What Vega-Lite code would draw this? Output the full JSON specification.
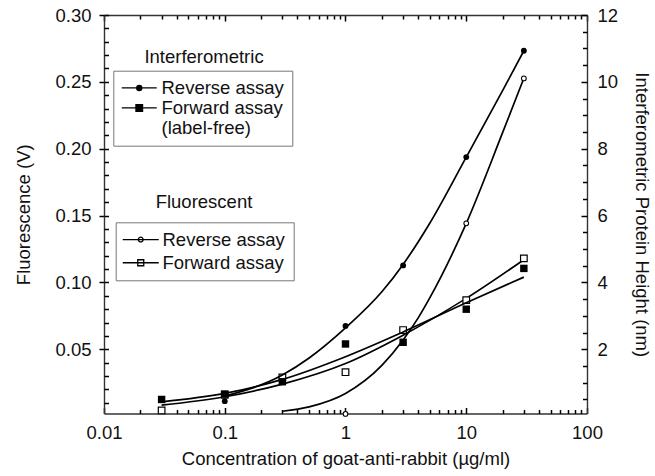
{
  "$schema": "https://vega.github.io/schema/vega-lite/v6.json",
  "width": 483,
  "height": 398.5,
  "autosize": {"type": "none"},
  "padding": {"left": 104, "top": 15, "right": 68, "bottom": 62.5},
  "datasets": {
    "fluorPts": [
      {"conc": 1, "value": 0.0017, "series": "Reverse assay"},
      {"conc": 10, "value": 0.1442, "series": "Reverse assay"},
      {"conc": 30, "value": 0.2526, "series": "Reverse assay"},
      {"conc": 0.03, "value": 0.0043, "series": "Forward assay"},
      {"conc": 0.1, "value": 0.016, "series": "Forward assay"},
      {"conc": 0.3, "value": 0.029, "series": "Forward assay"},
      {"conc": 1, "value": 0.0329, "series": "Forward assay"},
      {"conc": 3, "value": 0.0644, "series": "Forward assay"},
      {"conc": 10, "value": 0.0868, "series": "Forward assay"},
      {"conc": 30, "value": 0.118, "series": "Forward assay"}
    ],
    "fluorFit": [
      {"conc": 0.3, "value": 0.0037, "series": "Reverse assay"},
      {"conc": 0.5, "value": 0.007, "series": "Reverse assay"},
      {"conc": 1, "value": 0.017, "series": "Reverse assay"},
      {"conc": 2, "value": 0.038, "series": "Reverse assay"},
      {"conc": 3, "value": 0.057, "series": "Reverse assay"},
      {"conc": 4, "value": 0.0735, "series": "Reverse assay"},
      {"conc": 5, "value": 0.0886, "series": "Reverse assay"},
      {"conc": 10, "value": 0.1442, "series": "Reverse assay"},
      {"conc": 20, "value": 0.212, "series": "Reverse assay"},
      {"conc": 30, "value": 0.2527, "series": "Reverse assay"},
      {"conc": 0.03, "value": 0.0082, "series": "Forward assay"},
      {"conc": 0.1, "value": 0.0145, "series": "Forward assay"},
      {"conc": 0.3, "value": 0.024, "series": "Forward assay"},
      {"conc": 1, "value": 0.0394, "series": "Forward assay"},
      {"conc": 3, "value": 0.0606, "series": "Forward assay"},
      {"conc": 10, "value": 0.0881, "series": "Forward assay"},
      {"conc": 30, "value": 0.117, "series": "Forward assay"}
    ],
    "interfPts": [
      {"conc": 0.1, "height": 0.45, "series": "Reverse assay"},
      {"conc": 1, "height": 2.7, "series": "Reverse assay"},
      {"conc": 3, "height": 4.51, "series": "Reverse assay"},
      {"conc": 10, "height": 7.75, "series": "Reverse assay"},
      {"conc": 30, "height": 10.93, "series": "Reverse assay"},
      {"conc": 0.03, "height": 0.5, "series": "Forward assay"},
      {"conc": 0.1, "height": 0.66, "series": "Forward assay"},
      {"conc": 0.3, "height": 1.03, "series": "Forward assay"},
      {"conc": 1, "height": 2.16, "series": "Forward assay"},
      {"conc": 3, "height": 2.21, "series": "Forward assay"},
      {"conc": 10, "height": 3.2, "series": "Forward assay"},
      {"conc": 30, "height": 4.42, "series": "Forward assay"}
    ],
    "interfFit": [
      {"conc": 0.1, "height": 0.6, "series": "Reverse assay"},
      {"conc": 0.3, "height": 1.23, "series": "Reverse assay"},
      {"conc": 0.5, "height": 1.74, "series": "Reverse assay"},
      {"conc": 1, "height": 2.64, "series": "Reverse assay"},
      {"conc": 2, "height": 3.72, "series": "Reverse assay"},
      {"conc": 3, "height": 4.54, "series": "Reverse assay"},
      {"conc": 5, "height": 5.78, "series": "Reverse assay"},
      {"conc": 10, "height": 7.75, "series": "Reverse assay"},
      {"conc": 20, "height": 9.74, "series": "Reverse assay"},
      {"conc": 30, "height": 10.93, "series": "Reverse assay"},
      {"conc": 0.03, "height": 0.43, "series": "Forward assay"},
      {"conc": 0.1, "height": 0.68, "series": "Forward assay"},
      {"conc": 0.3, "height": 1.1, "series": "Forward assay"},
      {"conc": 1, "height": 1.78, "series": "Forward assay"},
      {"conc": 3, "height": 2.52, "series": "Forward assay"},
      {"conc": 10, "height": 3.39, "series": "Forward assay"},
      {"conc": 30, "height": 4.16, "series": "Forward assay"}
    ]
  },
  "title": {
    "text": "Interferometric",
    "subtitle": "Fluorescent",
    "frame": "group",
    "anchor": "start",
    "align": "center",
    "dx": 100,
    "dy": 205,
    "offset": 0,
    "subtitlePadding": 126.5,
    "font": "Liberation Sans",
    "fontSize": 18.5,
    "fontWeight": "normal",
    "color": "#111111",
    "subtitleFont": "Liberation Sans",
    "subtitleFontSize": 18.5,
    "subtitleColor": "#111111"
  },
  "config": {
    "view": {"stroke": null},
    "axis": {
      "grid": false,
      "labelFlush": false,
      "labelOverlap": false,
      "labelBound": false,
      "domainColor": "#333333",
      "domainWidth": 1.4,
      "labelFont": "Liberation Sans",
      "labelFontSize": 18.5,
      "labelColor": "#111111",
      "titleFont": "Liberation Sans",
      "titleFontSize": 18.5,
      "titleFontWeight": "normal",
      "titleColor": "#111111"
    },
    "legend": {
      "orient": "none",
      "padding": 8,
      "strokeColor": "#777777",
      "labelFont": "Liberation Sans",
      "labelFontSize": 18.5,
      "labelColor": "#111111",
      "labelLimit": 300,
      "symbolSize": 36,
      "symbolStrokeWidth": 1.3,
      "symbolOpacity": 1
    }
  },
  "layer": [
    {
      "encoding": {
        "x": {
          "field": "conc",
          "type": "quantitative",
          "scale": {"type": "log", "domain": [0.01, 100], "nice": false},
          "axis": {
            "orient": "bottom",
            "title": "Concentration of goat-anti-rabbit (µg/ml)",
            "values": [0.01, 0.1, 1, 10, 100],
            "format": "~g",
            "ticks": false,
            "labelPadding": 10,
            "titlePadding": 7
          }
        },
        "y": {
          "field": "value",
          "type": "quantitative",
          "scale": {"domain": [0.002, 0.3], "nice": false, "zero": false},
          "axis": {
            "orient": "left",
            "title": "Fluorescence (V)",
            "values": [0.05, 0.1, 0.15, 0.2, 0.25, 0.3],
            "format": ".2f",
            "ticks": true,
            "tickSize": 5,
            "tickColor": "black",
            "tickWidth": 1.5,
            "labelPadding": 8,
            "titlePadding": 21
          }
        }
      },
      "layer": [
        {
          "data": {"name": "fluorFit"},
          "mark": {"type": "line", "interpolate": "monotone", "color": "black", "strokeWidth": 1.7},
          "encoding": {"detail": {"field": "series"}}
        },
        {
          "data": {"name": "fluorPts"},
          "transform": [{"filter": "datum.series == 'Forward assay'"}],
          "mark": {"type": "point", "shape": "square", "size": 44, "filled": true, "fill": "white", "stroke": "black", "strokeWidth": 1.2, "opacity": 1}
        },
        {
          "data": {"name": "fluorPts"},
          "transform": [{"filter": "datum.series == 'Reverse assay'"}],
          "mark": {"type": "point", "shape": "circle", "size": 22, "filled": true, "fill": "white", "stroke": "black", "strokeWidth": 1.1, "opacity": 1}
        }
      ]
    },
    {
      "data": {"name": "fluorPts"},
      "mark": {"type": "point", "filled": true, "fill": "white", "stroke": "black", "strokeWidth": 1.3, "opacity": 0},
      "encoding": {
        "x": {
          "field": "conc",
          "type": "quantitative",
          "scale": {"type": "log", "domain": [0.01, 100], "nice": false},
          "axis": {
            "orient": "top",
            "offset": -398.5,
            "title": null,
            "labels": false,
            "domain": false,
            "values": [0.01, 0.02, 0.03, 0.04, 0.05, 0.06, 0.07, 0.08, 0.09, 0.1, 0.2, 0.3, 0.4, 0.5, 0.6, 0.7, 0.8, 0.9, 1, 2, 3, 4, 5, 6, 7, 8, 9, 10, 20, 30, 40, 50, 60, 70, 80, 90, 100],
            "ticks": true,
            "tickSize": {"condition": {"test": "abs(log(datum.value)/LN10 - round(log(datum.value)/LN10)) < 1e-6", "value": 6}, "value": 4},
            "tickColor": "black",
            "tickWidth": 1.5
          }
        },
        "y": {
          "field": "value",
          "type": "quantitative",
          "scale": {"domain": [0.002, 0.3], "nice": false, "zero": false},
          "axis": {
            "orient": "right",
            "offset": -483,
            "title": null,
            "labels": false,
            "domain": false,
            "values": [0.01, 0.02, 0.03, 0.04, 0.05, 0.06, 0.07, 0.08, 0.09, 0.1, 0.11, 0.12, 0.13, 0.14, 0.15, 0.16, 0.17, 0.18, 0.19, 0.2, 0.21, 0.22, 0.23, 0.24, 0.25, 0.26, 0.27, 0.28, 0.29, 0.3],
            "ticks": true,
            "tickSize": 4.5,
            "tickColor": "black",
            "tickWidth": 1.5
          }
        },
        "shape": {
          "field": "series",
          "type": "nominal",
          "scale": {
            "domain": ["Reverse assay", "Forward assay"],
            "range": [
              "M-6,0H6M0.8,0A0.8,0.8,0,1,1,-0.8,0A0.8,0.8,0,1,1,0.8,0Z",
              "M-6,0H6M-1,-1H1V1H-1Z"
            ]
          },
          "legend": {
            "title": null,
            "legendX": 11.7,
            "legendY": 207.3,
            "rowPadding": 4.2,
            "symbolOffset": 7.8,
            "labelOffset": 12.5
          }
        }
      }
    },
    {
      "encoding": {
        "x": {
          "field": "conc",
          "type": "quantitative",
          "scale": {"type": "log", "domain": [0.01, 100], "nice": false},
          "axis": {
            "orient": "bottom",
            "offset": -398.5,
            "title": null,
            "labels": false,
            "domain": true,
            "values": [0.01, 0.02, 0.03, 0.04, 0.05, 0.06, 0.07, 0.08, 0.09, 0.1, 0.2, 0.3, 0.4, 0.5, 0.6, 0.7, 0.8, 0.9, 1, 2, 3, 4, 5, 6, 7, 8, 9, 10, 20, 30, 40, 50, 60, 70, 80, 90, 100],
            "ticks": true,
            "tickColor": "black",
            "tickWidth": 1.5,
            "tickSize": {"condition": {"test": "abs(log(datum.value)/LN10 - round(log(datum.value)/LN10)) < 1e-6", "value": 6}, "value": 4}
          }
        },
        "y": {
          "field": "height",
          "type": "quantitative",
          "scale": {"domain": [0.08, 12], "nice": false, "zero": false},
          "axis": {
            "orient": "right",
            "title": "Interferometric Protein Height (nm)",
            "values": [2, 4, 6, 8, 10, 12],
            "format": "d",
            "ticks": false,
            "labelPadding": 10,
            "titlePadding": 14
          }
        }
      },
      "layer": [
        {
          "data": {"name": "interfFit"},
          "mark": {"type": "line", "interpolate": "monotone", "color": "black", "strokeWidth": 1.7},
          "encoding": {"detail": {"field": "series"}}
        },
        {
          "data": {"name": "interfPts"},
          "transform": [{"filter": "datum.series == 'Reverse assay'"}],
          "mark": {"type": "point", "shape": "circle", "size": 34, "filled": true, "color": "black", "opacity": 1}
        },
        {
          "data": {"name": "interfPts"},
          "transform": [{"filter": "datum.series == 'Forward assay'"}],
          "mark": {"type": "point", "shape": "square", "size": 55, "filled": true, "color": "black", "opacity": 1}
        }
      ]
    },
    {
      "data": {"name": "interfPts"},
      "mark": {"type": "point", "filled": true, "fill": "black", "stroke": "black", "strokeWidth": 1.3, "opacity": 0},
      "encoding": {
        "x": {
          "field": "conc",
          "type": "quantitative",
          "scale": {"type": "log", "domain": [0.01, 100], "nice": false},
          "axis": null
        },
        "y": {
          "field": "height",
          "type": "quantitative",
          "scale": {"domain": [0.08, 12], "nice": false, "zero": false},
          "axis": {
            "orient": "left",
            "offset": -483,
            "title": null,
            "labels": false,
            "domain": false,
            "values": [0.5, 1, 1.5, 2, 2.5, 3, 3.5, 4, 4.5, 5, 5.5, 6, 6.5, 7, 7.5, 8, 8.5, 9, 9.5, 10, 10.5, 11, 11.5, 12],
            "ticks": true,
            "tickSize": {"condition": {"test": "abs(datum.value/2 - round(datum.value/2)) < 1e-6", "value": 6}, "value": 4.5},
            "tickColor": "black",
            "tickWidth": 1.5
          }
        },
        "shape": {
          "field": "series",
          "type": "nominal",
          "scale": {
            "domain": ["Reverse assay", "Forward assay", "(label-free)"],
            "range": [
              "M-5.83,0H5.83M0.85,0A0.85,0.85,0,1,1,-0.85,0A0.85,0.85,0,1,1,0.85,0Z",
              "M-5.83,0H5.83M-1.1,-1.1H1.1V1.1H-1.1Z",
              "M0,0"
            ]
          },
          "legend": {
            "title": null,
            "legendX": 9.3,
            "legendY": 55.7,
            "rowPadding": 1,
            "symbolOffset": 8.7,
            "labelOffset": 13
          }
        }
      }
    }
  ],
  "resolve": {
    "scale": {"y": "independent", "shape": "independent"},
    "axis": {"x": "independent", "y": "independent"},
    "legend": {"shape": "independent"}
  }
}
